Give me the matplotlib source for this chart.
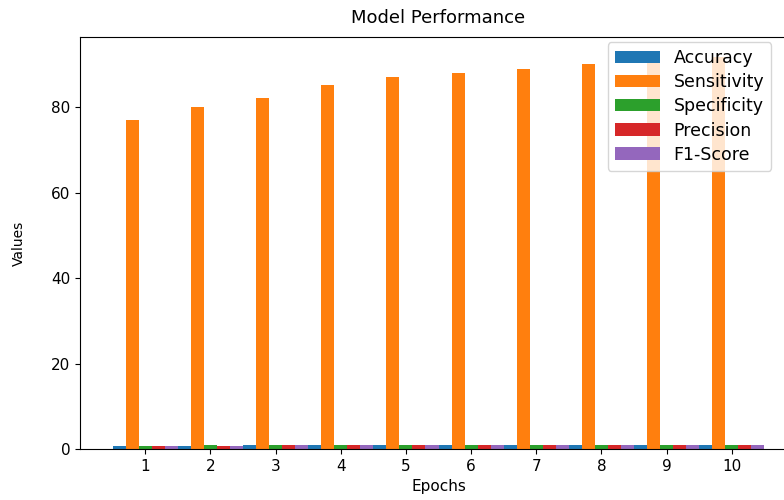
from matplotlib import pyplot as plt
import numpy as np

#epochs and metric values
epochs = [1, 2, 3, 4, 5, 6, 7, 8, 9, 10]
metrics = ['Accuracy', 'Sensitivity', 'Specificity', 'Precision', 'F1-Score']
accuracy = [0.77, 0.80, 0.82, 0.85, 0.87, 0.88, 0.89, 0.90, 0.91, 0.92]
sensitivity = [77.0, 80.0, 82.1, 85.1, 87.0, 88.0, 88.9, 90.0, 91.0, 91.8]
specificity = [0.80, 0.82, 0.84, 0.86, 0.87, 0.88, 0.89, 0.90, 0.91, 0.95]
precision = [0.78, 0.81, 0.83, 0.85, 0.86, 0.87, 0.88, 0.89, 0.90, 0.91]
f1score = [0.77, 0.80, 0.82, 0.85, 0.86, 0.87, 0.88, 0.89, 0.90, 0.91]

series = [accuracy, sensitivity, specificity, precision, f1score]
width = 0.2

fig = plt.figure(figsize=(7.84, 5.0), dpi=100)
#axes run a little past the right edge, as in the cropped reference
ax = fig.add_axes([80/784, 51/500, 717/784, 412/500])

x = np.array(epochs)
for i in range(len(series)):
    ax.bar(x + (i - 2)*width, series[i], width, label=metrics[i])

ax.set_xticks(epochs)
ax.set_xlim(0, 11)
ax.tick_params(labelsize=11)
ax.set_xlabel('Epochs', fontsize=11)
ax.set_ylabel('Values', fontsize=10, labelpad=18)
ax.set_title('Model Performance', fontsize=13, pad=10)
ax.legend(loc='upper left', fontsize=12.5, handlelength=2.6, labelspacing=0.35,
          bbox_to_anchor=(0.736, 0.987), borderaxespad=0)

fig.savefig('out.png', dpi=100)
